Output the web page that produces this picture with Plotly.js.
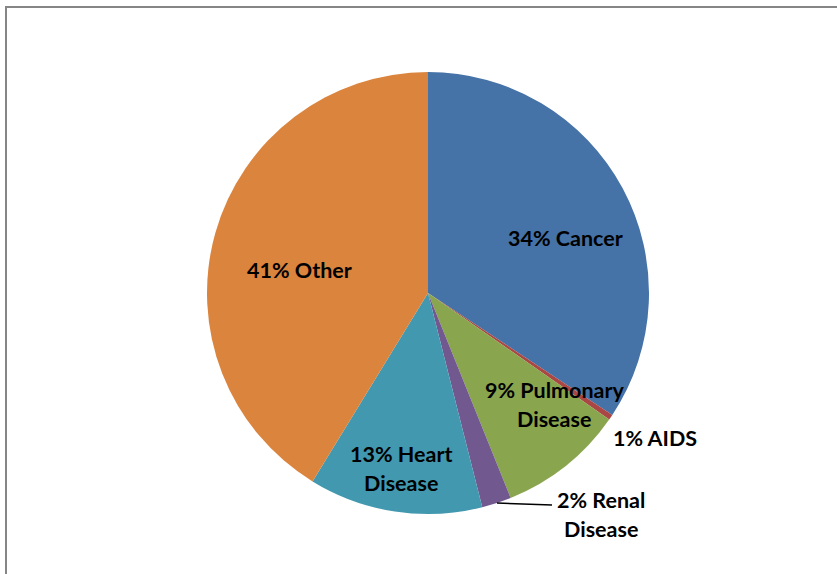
<!DOCTYPE html>
<html>
<head>
<meta charset="utf-8">
<script src="https://cdn.plot.ly/plotly-3.0.1.min.js"></script>
<style>html,body{margin:0;padding:0;background:#fff;}#chart{width:837px;height:574px;}</style>
</head>
<body>
<div id="chart"></div>
<script>
// Data
const categories = ["Cancer", "AIDS", "Pulmonary Disease", "Renal Disease", "Heart Disease", "Other"];
const values = [34.3, 0.4, 9.2, 2.15, 12.7, 41.25];
const pctLabels = ["34%", "1%", "9%", "2%", "13%", "41%"];
const colors = ["#4572A7", "#AA4643", "#89A54E", "#71588F", "#4198AF", "#DB843D"];

const W = 837, H = 574;
// label centres (pixels) for each category line block
const labelPos = [[565, 238], [655, 438], [554, 390], [601, 500], [401, 454], [299, 270]];
const lineGap = 29;
const font = {family: "Lato, 'Open Sans', sans-serif", size: 21.5, color: "#000"};

const annotations = [];
categories.forEach((c, i) => {
  const words = c.split(" ");
  const line1 = pctLabels[i] + " " + words[0];
  const line2 = words.slice(1).join(" ");
  annotations.push({xref: "paper", yref: "paper", x: labelPos[i][0] / W, y: 1 - labelPos[i][1] / H,
    text: "<b>" + line1 + "</b>", showarrow: false, font: font, xanchor: "center", yanchor: "middle"});
  if (line2) {
    annotations.push({xref: "paper", yref: "paper", x: labelPos[i][0] / W, y: 1 - (labelPos[i][1] + lineGap) / H,
      text: "<b>" + line2 + "</b>", showarrow: false, font: font, xanchor: "center", yanchor: "middle"});
  }
});

const cx = 428, cy = 293, r = 221;
const data = [{
  type: "pie",
  labels: categories,
  values: values,
  sort: false,
  direction: "clockwise",
  rotation: 0,
  textinfo: "none",
  hoverinfo: "label+percent",
  marker: {colors: colors, line: {width: 0}},
  domain: {x: [(cx - r) / W, (cx + r) / W], y: [(H - cy - r) / H, (H - cy + r) / H]},
  showlegend: false
}];

const layout = {
  width: W, height: H,
  margin: {l: 0, r: 0, t: 0, b: 0},
  paper_bgcolor: "#fff",
  showlegend: false,
  annotations: annotations,
  shapes: [
    {type: "rect", xref: "paper", yref: "paper", x0: 6 / W, x1: 1.02, y0: -0.02, y1: 1 - 7 / H,
     line: {color: "#868686", width: 2}, fillcolor: "rgba(0,0,0,0)"},
    {type: "line", xref: "paper", yref: "paper", x0: 497 / W, x1: 552 / W, y0: 1 - 503 / H, y1: 1 - 505 / H,
     line: {color: "#000", width: 1.5}}
  ]
};

Plotly.newPlot("chart", data, layout, {displayModeBar: false, staticPlot: true});
</script>
</body>
</html>
